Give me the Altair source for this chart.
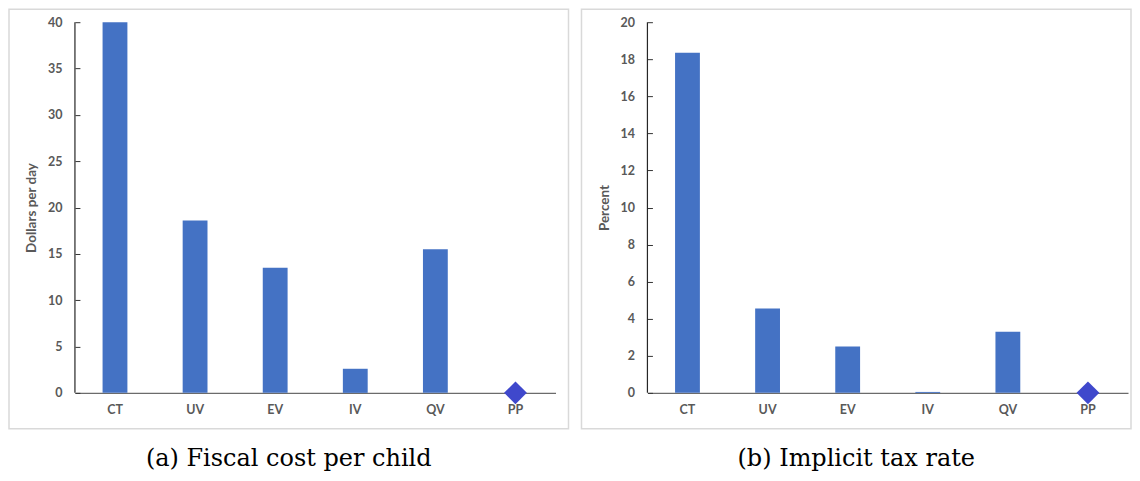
import altair as alt
import pandas as pd

# ---- data ----
categories = ["CT", "UV", "EV", "IV", "QV", "PP"]
bar_categories = ["CT", "UV", "EV", "IV", "QV"]
fiscal_cost = [40.0, 18.6, 13.5, 2.6, 15.5]
tax_rate = [18.35, 4.55, 2.5, 0.05, 3.3]
pp_category = ["PP"]
pp_fiscal_cost = [0.0]
pp_tax_rate = [0.0]
fiscal_ticks = [0, 5, 10, 15, 20, 25, 30, 35, 40]
tax_ticks = [0, 2, 4, 6, 8, 10, 12, 14, 16, 18, 20]

W, H = 481, 371
BAR = "#4472C4"
DIAMOND = "#3F48CC"
LABEL = "#595959"
one_row = pd.DataFrame({"k": [0]})


def panel(values, pp_values, ymax, ticks, ytitle, caption, frame_right):
    bars_df = pd.DataFrame({"cat": bar_categories, "value": values})
    pp_df = pd.DataFrame({"cat": pp_category, "value": pp_values})

    xenc = alt.X(
        "cat:N",
        sort=categories,
        scale=alt.Scale(domain=categories, paddingInner=0.69, paddingOuter=0.345),
        axis=alt.Axis(
            title=None, labelAngle=0, ticks=False,
            domainColor="#6b6b6b", domainWidth=1.4,
            labelFont="Lato", labelFontWeight="bold", labelFontSize=12.5,
            labelColor=LABEL, labelPadding=11,
        ),
    )
    yenc = alt.Y(
        "value:Q",
        scale=alt.Scale(domain=[0, ymax], nice=False, zero=True),
        axis=alt.Axis(
            values=ticks, title=ytitle, grid=False, domain=False,
            ticks=True, tickSize=5, tickColor="#333333", tickWidth=1,
            offset=-5, labelPadding=13,
            labelFont="Lato", labelFontWeight="bold", labelFontSize=12.5,
            labelColor=LABEL,
            titleFont="Lato", titleFontWeight="bold", titleFontSize=13.5,
            titleColor=LABEL, titleX=-41,
        ),
    )

    frame = alt.Chart(one_row).mark_rect(
        fill="white", fillOpacity=0, stroke="#d9d9d9", strokeWidth=1.5
    ).encode(
        x=alt.value(-66), x2=alt.value(frame_right), y=alt.value(-13), y2=alt.value(407)
    )
    bars = alt.Chart(bars_df).mark_bar(color=BAR).encode(x=xenc, y=yenc)
    yline = alt.Chart(one_row).mark_rule(color="#262626", strokeWidth=1.2).encode(
        x=alt.value(0), y=alt.value(0), y2=alt.value(H)
    )
    diamond = alt.Chart(pp_df).mark_point(
        shape="diamond", filled=True, color=DIAMOND, size=520, opacity=1
    ).encode(x=xenc, y=yenc)

    return alt.layer(frame, bars, yline, diamond).properties(
        width=W, height=H,
        title=alt.TitleParams(
            caption, orient="bottom", anchor="middle", frame="bounds",
            font="DejaVu Serif", fontSize=24, fontWeight="normal",
            color="black", offset=17, baseline="top",
        ),
    )


left = panel(fiscal_cost, pp_fiscal_cost, 40, fiscal_ticks, "Dollars per day",
             "(a) Fiscal cost per child", W + 13)
right = panel(tax_rate, pp_tax_rate, 20, tax_ticks, "Percent",
              "(b) Implicit tax rate", W + 3)

chart = alt.hconcat(left, right, spacing=11).properties(
    padding=0, background="white"
).configure_view(stroke=None)

chart.save("out.html", embed_options={"renderer": "svg", "actions": False})
